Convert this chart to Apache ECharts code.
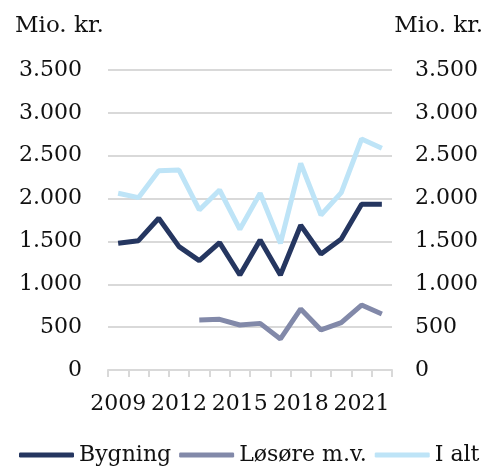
<!DOCTYPE html>
<html>
<head>
<meta charset="utf-8">
<script src="https://cdn.jsdelivr.net/npm/echarts@6/dist/echarts.min.js"></script>
<style>
  html, body { margin: 0; padding: 0; background: #fff; }
  #chart { width: 488px; height: 467px; }
</style>
</head>
<body>
<div id="chart"></div>
<script>
const years = ['2009', '2010', '2011', '2012', '2013', '2014', '2015', '2016', '2017', '2018', '2019', '2020', '2021', '2022'];
const bygning = [1478, 1509, 1770, 1439, 1276, 1486, 1108, 1517, 1108, 1688, 1353, 1528, 1933, 1933];
const losore = ['-', '-', '-', '-', 583, 591, 525, 544, 362, 712, 467, 552, 758, 653];
const iAlt = [2062, 2011, 2326, 2333, 1867, 2100, 1641, 2062, 1478, 2411, 1808, 2069, 2695, 2586];
const yTicks = { min: 0, max: 3500, interval: 500 };

const font = 'DejaVu Serif';
const textColor = '#111';

const chart = echarts.init(document.getElementById('chart'));

// tusindtalsseparator med punktum
const fmt = (v) => v.toString().replace(/\B(?=(\d{3})+(?!\d))/g, '.');

const yAxisBase = {
    type: 'value',
    min: yTicks.min,
    max: yTicks.max,
    interval: yTicks.interval,
    axisLine: { show: false },
    axisTick: { show: false },
    axisLabel: { color: textColor, fontFamily: font, fontSize: 22, formatter: fmt }
};

const titleStyle = { fontFamily: font, fontSize: 23, fontWeight: 'normal', color: textColor };

const option = {
    animation: false,
    color: ['#253660', '#8289A9', '#BEE4F7'],
    title: [
        { text: 'Mio. kr.', left: 10, top: 10, textStyle: titleStyle },
        { text: 'Mio. kr.', right: 0, top: 10, textStyle: titleStyle }
    ],
    grid: { left: 108, right: 96, top: 70, bottom: 97 },
    legend: {
        top: 439,
        left: 14,
        icon: 'roundRect',
        itemWidth: 55,
        itemHeight: 5,
        itemGap: 8,
        textStyle: { fontFamily: font, fontSize: 22, color: textColor }
    },
    xAxis: {
        type: 'category',
        data: years,
        boundaryGap: true,
        axisLine: { lineStyle: { color: '#D9D9D9', width: 2 } },
        axisTick: { show: true, interval: 0, length: 7, lineStyle: { color: '#D9D9D9', width: 2 } },
        axisLabel: { interval: 2, margin: 23, color: textColor, fontFamily: font, fontSize: 22 },
        splitLine: { show: false }
    },
    yAxis: [
        Object.assign({}, yAxisBase, {
            position: 'left',
            axisLabel: Object.assign({}, yAxisBase.axisLabel, { margin: 26 }),
            splitLine: { lineStyle: { color: '#D9D9D9', width: 2 } }
        }),
        Object.assign({}, yAxisBase, {
            position: 'right',
            axisLabel: Object.assign({}, yAxisBase.axisLabel, { margin: 23 }),
            splitLine: { show: false }
        })
    ],
    series: [
        { name: 'Bygning', type: 'line', data: bygning, symbol: 'none', lineStyle: { width: 5 } },
        { name: 'Løsøre m.v.', type: 'line', data: losore, symbol: 'none', lineStyle: { width: 5 } },
        { name: 'I alt', type: 'line', data: iAlt, symbol: 'none', lineStyle: { width: 5 } }
    ]
};

chart.setOption(option);
</script>
</body>
</html>
